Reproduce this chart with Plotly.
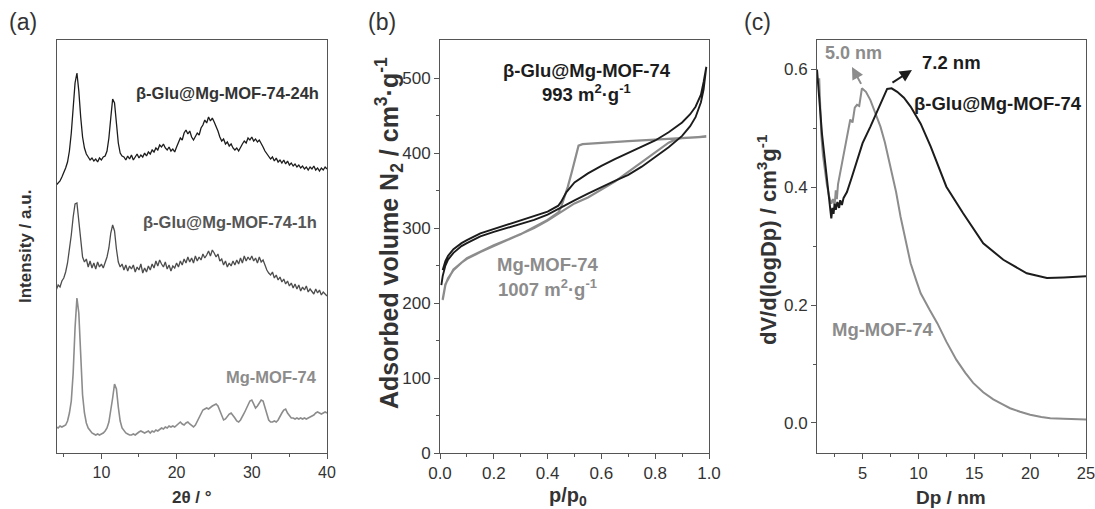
import plotly.graph_objects as go

# ---------------- Panel (a): XRD ----------------
TWO_THETA = [
    4.0, 4.25, 4.5, 4.75, 5.0, 5.25, 5.5, 5.75,
    6.0, 6.25, 6.5, 6.75, 7.0, 7.25, 7.5, 7.75,
    8.0, 8.25, 8.5, 8.75, 9.0, 9.25, 9.5, 9.75,
    10.0, 10.25, 10.5, 10.75, 11.0, 11.25, 11.5, 11.75,
    12.0, 12.25, 12.5, 12.75, 13.0, 13.25, 13.5, 13.75,
    14.0, 14.25, 14.5, 14.75, 15.0, 15.25, 15.5, 15.75,
    16.0, 16.25, 16.5, 16.75, 17.0, 17.25, 17.5, 17.75,
    18.0, 18.25, 18.5, 18.75, 19.0, 19.25, 19.5, 19.75,
    20.0, 20.25, 20.5, 20.75, 21.0, 21.25, 21.5, 21.75,
    22.0, 22.25, 22.5, 22.75, 23.0, 23.25, 23.5, 23.75,
    24.0, 24.25, 24.5, 24.75, 25.0, 25.25, 25.5, 25.75,
    26.0, 26.25, 26.5, 26.75, 27.0, 27.25, 27.5, 27.75,
    28.0, 28.25, 28.5, 28.75, 29.0, 29.25, 29.5, 29.75,
    30.0, 30.25, 30.5, 30.75, 31.0, 31.25, 31.5, 31.75,
    32.0, 32.25, 32.5, 32.75, 33.0, 33.25, 33.5, 33.75,
    34.0, 34.25, 34.5, 34.75, 35.0, 35.25, 35.5, 35.75,
    36.0, 36.25, 36.5, 36.75, 37.0, 37.25, 37.5, 37.75,
    38.0, 38.25, 38.5, 38.75, 39.0, 39.25, 39.5, 39.75,
    40.0,
]

XRD_24H = [
    268, 270, 272, 276, 280, 285, 291, 302,
    320, 345, 370, 380, 362, 336, 316, 305,
    299, 296, 293, 295, 292, 294, 291, 295,
    293, 296, 297, 302, 315, 335, 354, 350,
    328, 310, 300, 297, 296, 293, 297, 294,
    298, 293, 296, 299, 295, 298, 296, 300,
    297, 301, 299, 303, 301, 305, 303, 308,
    306, 309, 305, 303, 306, 302, 304, 301,
    306, 310, 315, 313, 320, 323, 319, 322,
    316, 313, 317, 320, 318, 325, 328, 333,
    330, 336, 332, 335, 331, 327, 322, 316,
    312, 314, 309, 311, 307, 309, 305, 303,
    305, 302, 306, 309, 312, 310, 315, 313,
    316, 312, 314, 311, 313, 310, 306, 302,
    299, 297, 294, 296, 292, 295, 291, 293,
    290, 293, 289, 292, 288, 290, 287, 289,
    286, 288, 285, 287, 284, 286, 283, 286,
    284, 287, 283, 285, 282, 285, 283, 286,
    284,
]

XRD_1H = [
    163, 168, 166, 172, 175, 181, 190, 203,
    218, 236, 249, 250, 230, 208, 196, 191,
    194, 186, 192, 185, 190, 184, 191, 186,
    189, 185, 191, 196, 205, 220, 228, 222,
    204, 191, 186, 189, 183, 188, 182, 187,
    184, 188, 181, 186, 183, 189, 180, 185,
    181, 187, 183, 189, 185, 192, 187, 193,
    189, 186, 191, 184, 188, 182, 187, 185,
    190, 186, 192, 188, 194, 190, 196, 191,
    195, 190, 197, 192, 196, 193, 199, 195,
    198, 202, 197, 203, 200, 196, 199, 192,
    194, 188, 192, 186, 190, 187, 192, 188,
    193, 189, 195, 190, 197, 192, 196, 193,
    197, 192, 195, 190, 196, 191, 193, 187,
    183, 180, 178, 181, 175, 178, 173, 176,
    171, 174, 169, 172, 167, 170, 165, 169,
    164, 168, 162, 166, 163, 167, 161, 164,
    162, 159, 164, 160, 163, 158, 161, 159,
    157,
]

XRD_MOF = [
    26, 25, 27, 26, 27, 28, 32, 40,
    52, 80, 125, 155, 140, 95, 58, 40,
    30, 25, 22, 20, 19, 18, 19, 18,
    19, 20, 22, 25, 31, 42, 55, 69,
    64, 46, 32, 25, 22, 20, 19, 18,
    18, 19, 18, 20, 21, 22, 21, 20,
    21, 22, 20, 22, 21, 23, 22, 24,
    25, 24, 26, 25, 27, 26, 27, 26,
    28, 30, 31, 29, 28, 30, 31, 29,
    27, 26, 28, 32, 36, 40, 43, 44,
    45, 44, 46, 47, 48, 49, 47, 42,
    37, 33, 34, 37, 39, 40, 38, 35,
    32, 31, 33, 36, 40, 44, 48, 52,
    53, 49, 45, 47, 50, 53, 52, 45,
    38, 33, 31, 31, 32, 31, 33, 37,
    40, 43, 44, 40, 37, 35, 35, 34,
    35, 34, 35, 34, 35, 34, 35, 36,
    37, 38, 40, 41, 40, 39, 40, 41,
    40,
]

# ---------------- Panel (b): N2 isotherms ----------------
P_BETA_ADS = [0.005, 0.01, 0.02, 0.03, 0.05, 0.08, 0.10, 0.15, 0.20, 0.25, 0.30, 0.35,
              0.40, 0.44, 0.50, 0.55, 0.60, 0.65, 0.70, 0.75, 0.80, 0.85, 0.90, 0.93,
              0.95, 0.97, 0.98, 0.99]
V_BETA_ADS = [224, 236, 250, 258, 267, 276, 280, 289, 295, 300, 305, 311,
              318, 326, 337, 346, 355, 363, 371, 382, 395, 408, 423, 436,
              448, 468, 485, 515]
P_BETA_DES = [0.99, 0.98, 0.97, 0.95, 0.93, 0.90, 0.85, 0.80, 0.75, 0.70, 0.65, 0.60,
              0.55, 0.50, 0.47, 0.45, 0.44, 0.40, 0.35, 0.30, 0.25, 0.20, 0.15, 0.10,
              0.08, 0.05, 0.03, 0.02, 0.01]
V_BETA_DES = [515, 495, 478, 462, 452, 441, 428, 417, 409, 400, 392, 383,
              373, 361, 348, 335, 330, 322, 316, 310, 304, 299, 293, 284,
              280, 272, 263, 256, 244]

P_MOF_ADS = [0.01, 0.015, 0.02, 0.03, 0.05, 0.08, 0.10, 0.15, 0.20, 0.25, 0.30, 0.35,
             0.40, 0.45, 0.50, 0.55, 0.60, 0.65, 0.70, 0.75, 0.80, 0.85, 0.88, 0.90,
             0.95, 0.99]
V_MOF_ADS = [204, 215, 224, 233, 244, 254, 259, 268, 276, 283, 291, 300,
             310, 322, 333, 341, 351, 362, 375, 388, 401, 414, 419, 420,
             421, 422]
P_MOF_DES = [0.99, 0.90, 0.80, 0.70, 0.60, 0.53, 0.515, 0.505, 0.49, 0.475, 0.46, 0.45,
             0.44, 0.40, 0.30, 0.20, 0.10, 0.05, 0.02, 0.01]
V_MOF_DES = [422, 420, 418, 416, 414, 412, 410, 395, 375, 355, 338, 328,
             321, 311, 292, 277, 260, 245, 225, 205]

# ---------------- Panel (c): pore size distribution ----------------
DP_BETA = [0.92, 1.0, 1.2, 1.37, 1.6, 1.8, 2.0, 2.2, 2.3, 2.4, 2.5, 2.6, 2.75, 2.9,
           3.0, 3.15, 3.3, 3.6, 4.0, 4.5, 5.0, 5.7, 6.3, 6.9, 7.2, 7.6, 8.1, 8.7,
           9.3, 10.2, 11.1, 12.5, 14.0, 15.8, 17.6, 19.7, 21.5, 23.0, 25.0]
PSD_BETA = [0.60, 0.58, 0.52, 0.49, 0.45, 0.415, 0.385, 0.347, 0.365, 0.355, 0.372, 0.362,
            0.375, 0.365, 0.378, 0.370, 0.382, 0.392, 0.415, 0.446, 0.475, 0.503, 0.528,
            0.552, 0.567, 0.568, 0.562, 0.552, 0.537, 0.508, 0.469, 0.401, 0.356, 0.305,
            0.277, 0.254, 0.246, 0.247, 0.249]

DP_MOF = [1.12, 1.2, 1.3, 1.45, 1.6, 1.8, 2.0, 2.2, 2.35, 2.5, 2.6, 2.7, 2.8, 2.95,
          3.1, 3.3, 3.5, 3.7, 3.9, 4.1, 4.3, 4.5, 4.7, 4.94, 5.3, 5.7, 6.1, 6.6,
          7.0, 7.5, 8.0, 8.4, 8.9, 9.3, 9.8, 10.2, 11.0, 11.7, 12.5, 13.4, 14.2,
          14.9, 15.8, 16.7, 17.5, 18.2, 19.1, 20.0, 21.0, 21.8, 23.0, 25.0]
PSD_MOF = [0.585, 0.53, 0.49, 0.455, 0.43, 0.405, 0.385, 0.372, 0.38, 0.37, 0.395, 0.38,
           0.405, 0.42, 0.44, 0.46, 0.48, 0.50, 0.515, 0.51, 0.535, 0.54, 0.538, 0.568,
           0.562, 0.548, 0.528, 0.503, 0.476, 0.435, 0.392, 0.350, 0.305, 0.271, 0.242,
           0.220, 0.192, 0.169, 0.138, 0.107, 0.085, 0.068, 0.052, 0.040, 0.032, 0.025,
           0.019, 0.014, 0.010, 0.008, 0.007, 0.006]

assert len(TWO_THETA) == len(XRD_24H) == len(XRD_1H) == len(XRD_MOF)

BLACK = "#1c1c1c"
DARK = "#4d4d4d"
GRAY = "#8c8c8c"
FONT = "Arial, Liberation Sans, sans-serif"
AXC = "#555555"

fig = go.Figure()

fig.add_trace(go.Scatter(x=TWO_THETA, y=XRD_24H, mode="lines",
                         line=dict(color=BLACK, width=1.3), xaxis="x", yaxis="y"))
fig.add_trace(go.Scatter(x=TWO_THETA, y=XRD_1H, mode="lines",
                         line=dict(color=DARK, width=1.3), xaxis="x", yaxis="y"))
fig.add_trace(go.Scatter(x=TWO_THETA, y=XRD_MOF, mode="lines",
                         line=dict(color=GRAY, width=1.6), xaxis="x", yaxis="y"))

fig.add_trace(go.Scatter(x=P_MOF_ADS + P_MOF_DES, y=V_MOF_ADS + V_MOF_DES, mode="lines",
                         line=dict(color=GRAY, width=2.2), xaxis="x2", yaxis="y2"))
fig.add_trace(go.Scatter(x=P_BETA_ADS + P_BETA_DES, y=V_BETA_ADS + V_BETA_DES, mode="lines",
                         line=dict(color=BLACK, width=1.9), xaxis="x2", yaxis="y2"))

fig.add_trace(go.Scatter(x=DP_MOF, y=PSD_MOF, mode="lines",
                         line=dict(color=GRAY, width=2), xaxis="x3", yaxis="y3"))
fig.add_trace(go.Scatter(x=DP_BETA, y=PSD_BETA, mode="lines",
                         line=dict(color=BLACK, width=2), xaxis="x3", yaxis="y3"))

W, H = 1095, 509
YDOM = [1 - 453 / H, 1 - 40 / H]


def axis(size, **kw):
    d = dict(showline=True, linecolor=AXC, linewidth=1, mirror=True,
             ticks="outside", ticklen=5, tickwidth=1, tickcolor=AXC,
             showgrid=False, zeroline=False, ticklabeloverflow="allow",
             tickfont=dict(family=FONT, size=size, color="#333333"))
    d.update(kw)
    return d


fig.update_layout(
    width=W, height=H, margin=dict(l=0, r=0, t=0, b=0, autoexpand=False),
    paper_bgcolor="white", plot_bgcolor="white", showlegend=False,
    xaxis=axis(16, domain=[57 / W, 327 / W], range=[4.1, 40], tickvals=[10, 20, 30, 40],
               minor=dict(ticks="outside", ticklen=3, tickvals=[5, 15, 25, 35], tickcolor=AXC),
               anchor="y"),
    yaxis=axis(16, domain=YDOM, range=[0, 413], showticklabels=False, ticks="", anchor="x"),
    xaxis2=axis(17, domain=[440 / W, 709 / W], range=[0, 1.0],
                tickvals=[0, 0.2, 0.4, 0.6, 0.8, 1.0],
                ticktext=["0.0", "0.2", "0.4", "0.6", "0.8", "1.0"],
                minor=dict(ticks="outside", ticklen=3, tickvals=[0.1, 0.3, 0.5, 0.7, 0.9],
                           tickcolor=AXC),
                anchor="y2"),
    yaxis2=axis(17, domain=YDOM, range=[0, 551], tickvals=[0, 100, 200, 300, 400, 500],
                minor=dict(ticks="outside", ticklen=3, tickvals=[50, 150, 250, 350, 450],
                           tickcolor=AXC),
                anchor="x2"),
    xaxis3=axis(16.5, domain=[817 / W, 1086 / W], range=[0.92, 25],
                tickvals=[5, 10, 15, 20, 25],
                minor=dict(ticks="outside", ticklen=3, tickvals=[2.5, 7.5, 12.5, 17.5, 22.5],
                           tickcolor=AXC),
                anchor="y3"),
    yaxis3=axis(17, domain=YDOM, range=[-0.051, 0.65], tickvals=[0, 0.2, 0.4, 0.6],
                ticktext=["0.0", "0.2", "0.4", "0.6"],
                minor=dict(ticks="outside", ticklen=3, tickvals=[0.1, 0.3, 0.5], tickcolor=AXC),
                anchor="x3"),
)

ann = []


def txt(text, x, y, xref, yref, size=15, color=BLACK, bold=True, xanchor="center",
        yanchor="middle", angle=0):
    t = f"<b>{text}</b>" if bold else text
    ann.append(dict(text=t, x=x, y=y, xref=xref, yref=yref, showarrow=False,
                    xanchor=xanchor, yanchor=yanchor, textangle=angle,
                    font=dict(family=FONT, size=size, color=color)))


# panel letters
txt("(a)", 23 / W, 1 - 22 / H, "paper", "paper", size=23, color="#333333", bold=False)
txt("(b)", 382 / W, 1 - 22 / H, "paper", "paper", size=23, color="#333333", bold=False)
txt("(c)", 757 / W, 1 - 22 / H, "paper", "paper", size=23, color="#333333", bold=False)

# axis titles
txt("2θ / °", 192 / W, 1 - 497 / H, "paper", "paper", size=17, color="#333333")
txt("Intensity / a.u.", 25 / W, 1 - 247 / H, "paper", "paper", size=17, color="#333333",
    angle=-90)
txt("p/p<sub>0</sub>", 568 / W, 1 - 496 / H, "paper", "paper", size=20, color="#333333")
txt("Adsorbed volume N<sub>2</sub> / cm<sup>3</sup>·g<sup>-1</sup>", 389 / W, 1 - 233 / H,
    "paper", "paper", size=25, color="#333333", angle=-90)
txt("Dp / nm", 951 / W, 1 - 497 / H, "paper", "paper", size=19, color="#333333")
txt("dV/d(logDp) / cm<sup>3</sup>g<sup>-1</sup>", 767 / W, 1 - 240 / H, "paper", "paper",
    size=22, color="#333333", angle=-90)

# panel (a) labels
txt("β-Glu@Mg-MOF-74-24h", 39.2, 360, "x", "y", size=16.5, color="#333333", xanchor="right")
txt("β-Glu@Mg-MOF-74-1h", 38.9, 231, "x", "y", size=16.5, color="#555555", xanchor="right")
txt("Mg-MOF-74", 38.9, 76, "x", "y", size=16.5, color=GRAY, xanchor="right")

# panel (b) labels
txt("β-Glu@Mg-MOF-74", 0.546, 510, "x2", "y2", size=18.5, color=BLACK)
txt("993 m<sup>2</sup>·g<sup>-1</sup>", 0.546, 480, "x2", "y2", size=18.5, color=BLACK)
txt("Mg-MOF-74", 0.40, 252, "x2", "y2", size=18.5, color=GRAY)
txt("1007 m<sup>2</sup>·g<sup>-1</sup>", 0.40, 220, "x2", "y2", size=18.5, color=GRAY)

# panel (c) labels
txt("5.0 nm", 4.17, 0.628, "x3", "y3", size=18, color=GRAY)
txt("7.2 nm", 13.0, 0.611, "x3", "y3", size=18.5, color=BLACK)
txt("β-Glu@Mg-MOF-74", 24.8, 0.543, "x3", "y3", size=18.5, color=BLACK, xanchor="right")
txt("Mg-MOF-74", 2.1, 0.158, "x3", "y3", size=18.5, color=GRAY, xanchor="left")

# arrows
ann.append(dict(x=4.05, y=0.604, ax=4.94, ay=0.573, xref="x3", yref="y3", axref="x3",
                ayref="y3", text="", showarrow=True, arrowhead=2, arrowsize=1.2,
                arrowwidth=2, arrowcolor=GRAY))
ann.append(dict(x=9.42, y=0.599, ax=7.54, ay=0.576, xref="x3", yref="y3", axref="x3",
                ayref="y3", text="", showarrow=True, arrowhead=2, arrowsize=1.2,
                arrowwidth=2, arrowcolor=BLACK))

fig.update_layout(annotations=ann)
fig.write_html("out.html", config={"displayModeBar": False},
               post_script="document.body.style.margin='0';"
                           "document.body.style.overflow='hidden';")
